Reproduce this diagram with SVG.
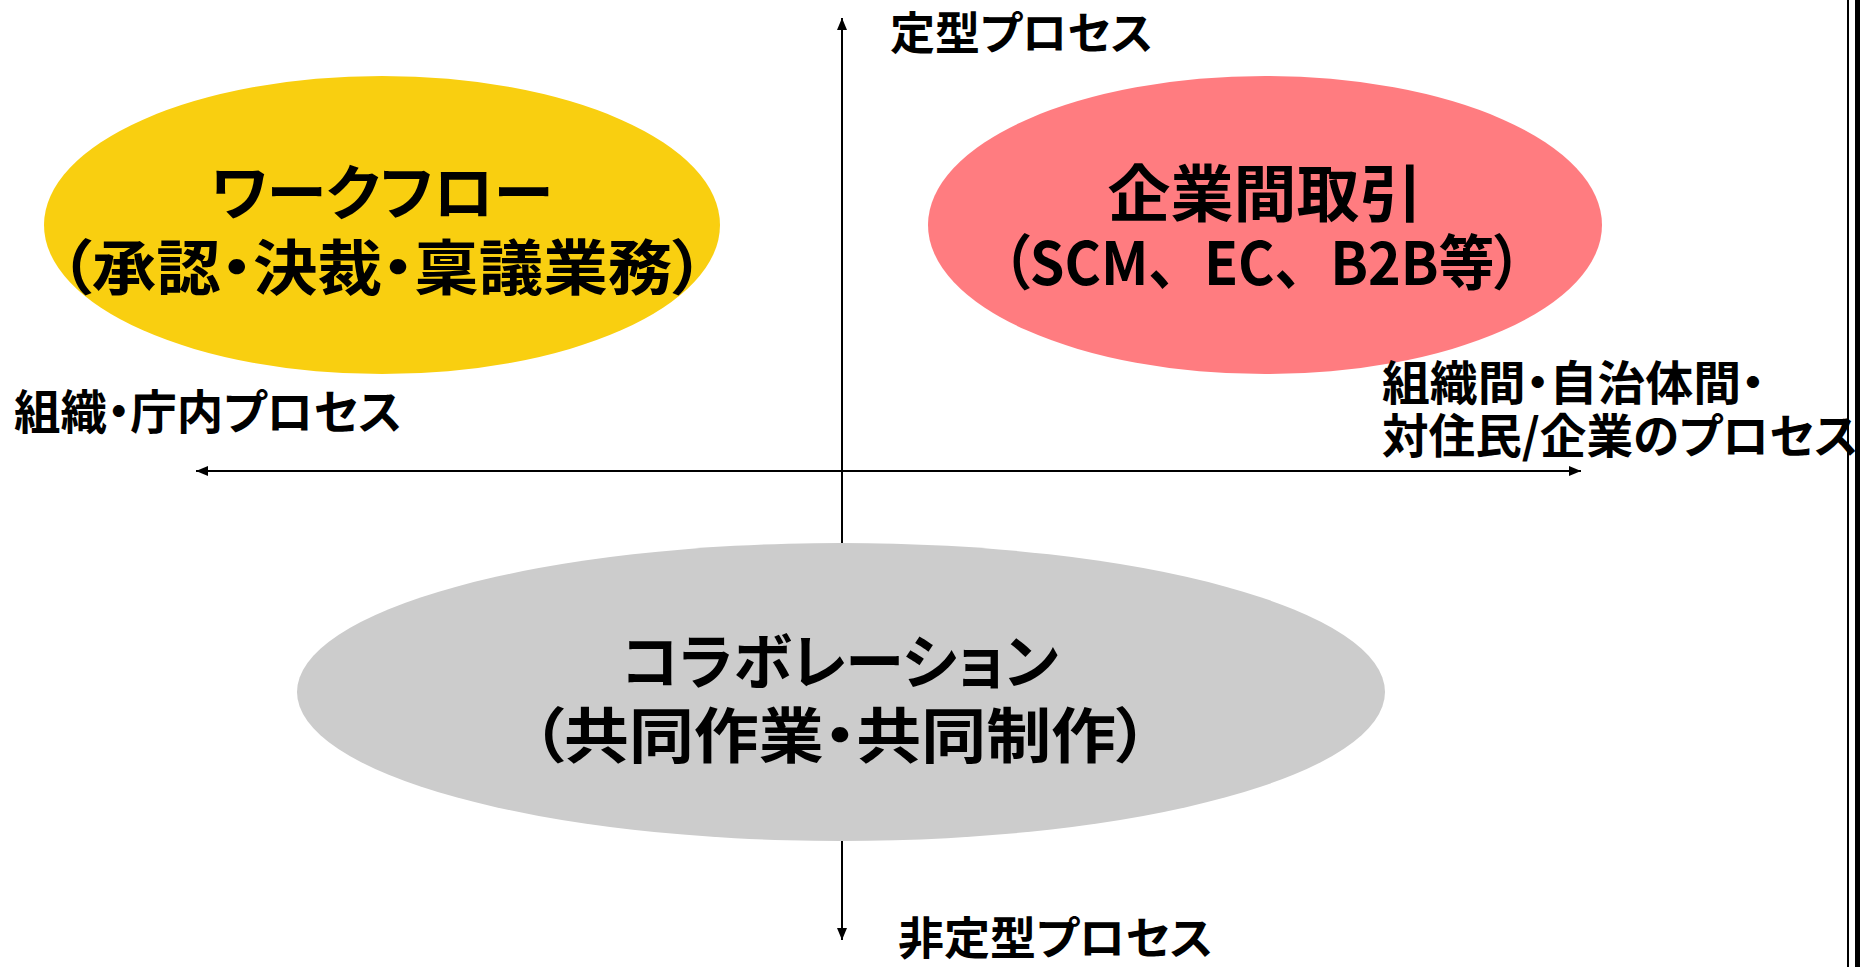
<svg xmlns="http://www.w3.org/2000/svg" width="1860" height="967" viewBox="0 0 1860 967">
<style>
text{font-family:"Noto Sans CJK JP","Noto Sans",sans-serif;font-weight:bold;fill:#000;font-feature-settings:"palt"}
.lbl{font-size:45px}
.side{font-size:47px}
.big{font-size:60px;text-anchor:middle}
.fw{font-feature-settings:normal}
.axis{stroke:#000;stroke-width:2;fill:none}
</style>
<defs>
<marker id="ah" viewBox="0 0 12 10" refX="12" refY="5" markerWidth="12" markerHeight="10" orient="auto-start-reverse" markerUnits="userSpaceOnUse"><path d="M0,0 L12,5 L0,10 z" fill="#000"/></marker>
</defs>
<rect width="1860" height="967" fill="#fff"/>
<g id="connectors">
<path class="axis" d="M842,940 L842,18" marker-start="url(#ah)" marker-end="url(#ah)"/>
<path class="axis" d="M196,471 L1581,471" marker-start="url(#ah)" marker-end="url(#ah)"/>
</g>
<g id="workflow">
<ellipse cx="382" cy="225" rx="338" ry="149" fill="#F9CF10"/>
<text class="big" x="382" y="215" textLength="342" lengthAdjust="spacingAndGlyphs">ワークフロー</text>
<text class="big" x="382" y="290" textLength="645" lengthAdjust="spacingAndGlyphs">（承認・決裁・稟議業務）</text>
</g>
<g id="b2b">
<ellipse cx="1265" cy="225" rx="337" ry="149" fill="#FF7C80"/>
<text class="big" x="1265" y="217" style="font-size:62px" textLength="315" lengthAdjust="spacingAndGlyphs">企業間取引</text>
<text class="big" x="1262" y="285" textLength="520" lengthAdjust="spacingAndGlyphs">（SCM<tspan class="fw">、</tspan>EC<tspan class="fw">、</tspan>B2B等）</text>
</g>
<g id="collab">
<ellipse cx="841" cy="692" rx="544" ry="149" fill="#CCCCCC"/>
<text class="big" x="840" y="684" textLength="437" lengthAdjust="spacingAndGlyphs">コラボレーション</text>
<text class="big" x="840" y="758" textLength="617" lengthAdjust="spacingAndGlyphs">（共同作業・共同制作）</text>
</g>
<g id="labels">
<text class="lbl" x="890" y="50" textLength="263" lengthAdjust="spacingAndGlyphs">定型プロセス</text>
<text class="lbl" x="898" y="955" textLength="315" lengthAdjust="spacingAndGlyphs">非定型プロセス</text>
<text class="side" x="14" y="429" textLength="388" lengthAdjust="spacingAndGlyphs">組織・庁内プロセス</text>
<text class="side" x="1382" y="400" textLength="383" lengthAdjust="spacingAndGlyphs">組織間・自治体間・</text>
<text class="side" x="1382" y="453" textLength="476" lengthAdjust="spacingAndGlyphs">対住民/企業のプロセス</text>
</g>
<g id="border">
<rect x="1847" y="0" width="2" height="967" fill="#000"/>
<rect x="1855" y="0" width="5" height="967" fill="#000"/>
</g>
</svg>
